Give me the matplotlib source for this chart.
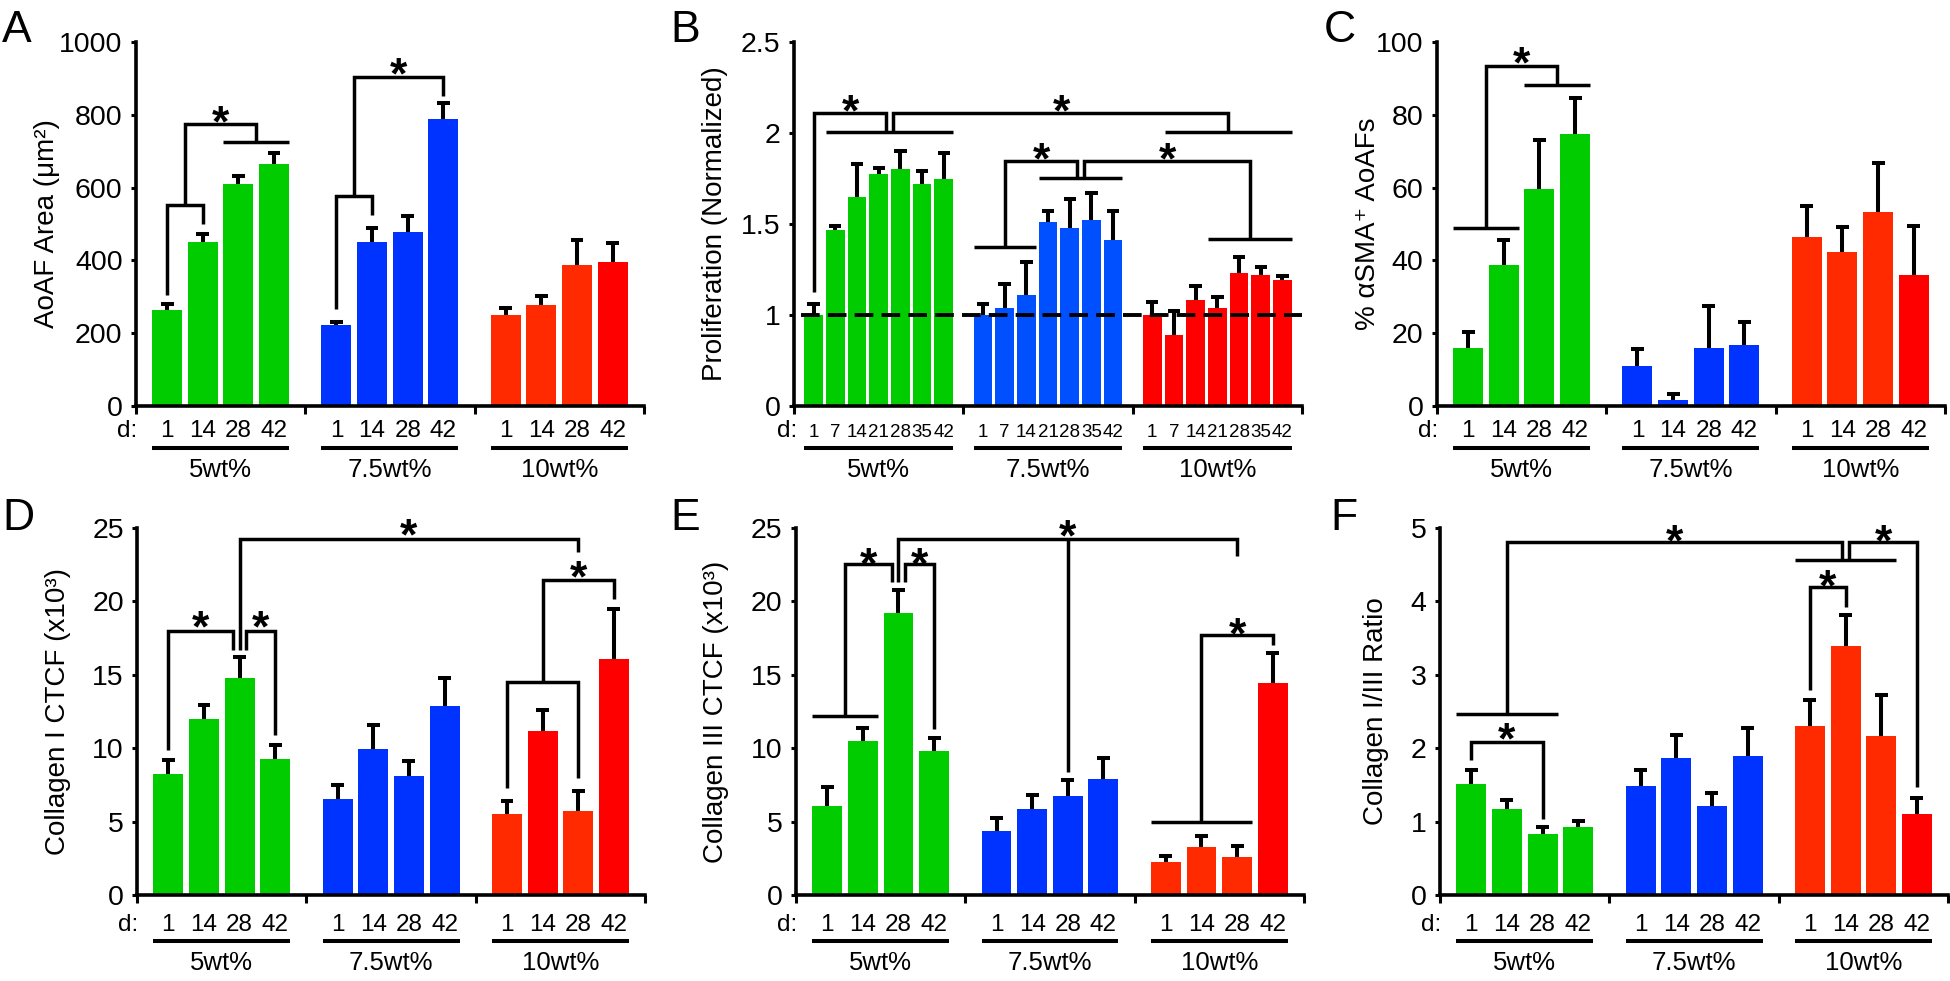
import numpy as np
import matplotlib
matplotlib.use('Agg')
import matplotlib.pyplot as plt
from matplotlib.transforms import ScaledTranslation

plt.rcParams['font.family'] = ['Liberation Sans', 'DejaVu Sans']

groups = ['5wt%', '7.5wt%', '10wt%']
days4 = ['1', '14', '28', '42']
days7 = ['1', '7', '14', '21', '28', '35', '42']

# A - AoAF area
area_mean = [[265, 450, 610, 665], [223, 450, 478, 790], [250, 278, 388, 395]]
area_sem = [[15, 23, 23, 30], [9, 38, 44, 44], [18, 24, 67, 52]]
# B - proliferation (normalized)
prolif_mean = [[1.0, 1.47, 1.65, 1.775, 1.80, 1.72, 1.745],
               [1.0, 1.04, 1.11, 1.51, 1.48, 1.525, 1.415],
               [1.0, 0.89, 1.08, 1.04, 1.23, 1.22, 1.19]]
prolif_sem = [[0.06, 0.02, 0.18, 0.035, 0.10, 0.07, 0.145],
              [0.06, 0.13, 0.18, 0.06, 0.16, 0.145, 0.155],
              [0.07, 0.13, 0.08, 0.06, 0.09, 0.045, 0.025]]
# C - % aSMA+ AoAFs
sma_mean = [[16.0, 38.8, 59.6, 74.8], [11.1, 1.65, 16.0, 16.7], [46.4, 42.3, 53.3, 36.0]]
sma_sem = [[4.4, 6.7, 13.4, 9.8], [4.5, 1.55, 11.5, 6.5], [8.6, 7.0, 13.4, 13.5]]
# D - collagen I CTCF
col1_mean = [[8.24, 12.0, 14.75, 9.28], [6.51, 9.96, 8.08, 12.86], [5.51, 11.14, 5.69, 16.11]]
col1_sem = [[0.95, 0.93, 1.47, 0.91], [0.95, 1.61, 1.06, 1.93], [0.89, 1.45, 1.41, 3.35]]
# E - collagen III CTCF
col3_mean = [[6.03, 10.46, 19.19, 9.78], [4.33, 5.85, 6.71, 7.92], [2.27, 3.29, 2.61, 14.41]]
col3_sem = [[1.30, 0.93, 1.61, 0.93], [0.89, 0.93, 1.09, 1.43], [0.38, 0.73, 0.72, 2.11]]
# F - collagen I/III ratio
ratio_mean = [[1.51, 1.17, 0.83, 0.93], [1.48, 1.86, 1.21, 1.89], [2.30, 3.39, 2.16, 1.10]]
ratio_sem = [[0.19, 0.12, 0.09, 0.08], [0.22, 0.32, 0.18, 0.39], [0.36, 0.43, 0.57, 0.22]]

# significance marks: links (x1, x2, y1, y2, ytop), spans (x1, x2, y), stars (x, y)
A_links = [(0, 1, 305, 500, 551), (0.5, 2.5, 551, 725, 775),
           (4.75, 5.75, 266, 525, 576), (5.25, 7.75, 576, 851, 903)]
A_spans = [(1.58, 3.42, 725)]
A_stars = [(1.5, 809), (6.5, 940)]

B_links = [(0, 3.35, 1.128, 2.007, 2.108), (3.65, 19.1, 2.007, 2.007, 2.108),
           (8.8, 12.15, 1.375, 1.751, 1.846), (12.45, 20.1, 1.751, 1.416, 1.846)]
B_spans = [(0.57, 6.43, 2.007), (16.17, 22.03, 2.007), (7.37, 10.23, 1.375),
           (10.37, 14.23, 1.751), (18.17, 22.03, 1.416)]
B_stars = [(1.7, 2.178), (11.4, 2.178), (10.5, 1.916), (16.3, 1.916)]

C_links = [(0.5, 2.5, 49.0, 88.3, 93.5)]
C_spans = [(-0.42, 1.42, 49.0), (1.58, 3.42, 88.3)]
C_stars = [(1.5, 97.2)]

D_links = [(0, 1.82, 9.87, 16.72, 17.97), (2.18, 3, 16.72, 10.89, 17.97),
           (2, 11.5, 16.72, 23.37, 24.27), (9.5, 11.5, 7.26, 7.94, 14.52),
           (10.5, 12.5, 14.52, 20.19, 21.48)]
D_spans = []
D_stars = [(0.91, 18.94), (2.59, 18.94), (6.75, 25.25), (11.5, 22.35)]

E_links = [(0.5, 1.82, 12.18, 21.3, 22.53), (2.18, 3, 21.3, 11.34, 22.53),
           (2, 11.5, 21.3, 23.1, 24.23), (6.75, 6.75, 8.39, 24.23, 24.23),
           (10.5, 12.5, 4.99, 17.0, 17.7)]
E_spans = [(-0.42, 1.42, 12.18), (9.08, 11.92, 4.99)]
E_stars = [(1.16, 23.3), (2.59, 23.3), (6.75, 25.18), (11.5, 18.5)]

F_links = [(0, 2, 1.84, 1.04, 2.09), (1.0, 10.4, 2.47, 4.56, 4.81),
           (10.6, 12.5, 4.56, 1.47, 4.81), (9.5, 10.5, 2.79, 3.92, 4.20)]
F_spans = [(-0.42, 2.42, 2.47), (9.08, 11.92, 4.56)]
F_stars = [(1.0, 2.27), (5.7, 4.97), (11.55, 4.97), (10.0, 4.35)]

GREEN = '#00CC00'
BLUE = '#0033FF'
BLUE_B = '#0050FF'
ORANGE = '#FF2A00'
RED = '#FF0000'

LW = 2.5
STAR_FS = 32

fig = plt.figure(figsize=(19.5, 9.81), dpi=100)


def panel(rect, means, sems, n, gap, width, cap, reds, blue, yticks, yticklabels,
          ylim, ylabel, ylab_x, days, day_fs, links, spans, stars, offs, dx_d):
    ax = fig.add_axes(rect)
    G = n + gap
    xs, vals, errs, cols = [], [], [], []
    for g in range(3):
        for i in range(n):
            xs.append(g * G + i)
            vals.append(means[g][i])
            errs.append(sems[g][i])
            cols.append([GREEN, blue, reds[i]][g])
    xs = np.array(xs, float)
    vals = np.array(vals)
    tops = vals + np.array(errs)
    ax.bar(xs, vals, width=width, color=cols, zorder=2)
    ax.vlines(xs, vals, tops, colors='k', lw=2.9, zorder=3)
    ax.hlines(tops, xs - cap / 2, xs + cap / 2, colors='k', lw=2.9, zorder=3)

    x0 = -0.5 - gap / 2
    ax.set_xlim(x0, 2 * G + n - 0.5 + gap / 2)
    ax.set_ylim(*ylim)
    ax.set_xticks([x0 + k * G for k in range(4)])
    ax.set_xticklabels([])
    ax.set_yticks(yticks)
    ax.set_yticklabels(yticklabels, fontsize=20.5)
    for s in ['top', 'right']:
        ax.spines[s].set_visible(False)
    for s in ['left', 'bottom']:
        ax.spines[s].set_linewidth(2.6)
    ax.tick_params(axis='y', direction='out', length=3.6, width=2.2, pad=6)
    ax.tick_params(axis='x', direction='out', length=5.5, width=2.2)
    ax.set_ylabel(ylabel, fontsize=20, va='center')
    ax.yaxis.set_label_coords(ylab_x, 0.5)

    def below(px):
        return ax.get_xaxis_transform() + ScaledTranslation(0, -px / 100, fig.dpi_scale_trans)

    d_off, u_off, g_off = offs
    ax.text(dx_d, 0, 'd:', transform=below(d_off), ha='center', va='baseline',
            fontsize=17.5, clip_on=False)
    for g in range(3):
        gx = xs[g * n:(g + 1) * n]
        for xx, lab in zip(gx, days):
            ax.text(xx, 0, lab, transform=below(d_off), ha='center', va='baseline',
                    fontsize=day_fs, clip_on=False)
        ax.plot([gx[0] - width / 2, gx[-1] + width / 2], [0, 0], color='k', lw=2.9,
                transform=below(u_off), clip_on=False, solid_capstyle='butt')
        ax.text(gx.mean(), 0, groups[g], transform=below(g_off), ha='center',
                va='baseline', fontsize=18.5, clip_on=False)

    for x1, x2, y1, y2, yt in links:
        ax.plot([x1, x1, x2, x2], [y1, yt, yt, y2], color='k', lw=LW, clip_on=False,
                solid_joinstyle='miter', solid_capstyle='butt', zorder=4)
    for x1, x2, y in spans:
        ax.plot([x1, x2], [y, y], color='k', lw=LW, clip_on=False,
                solid_capstyle='butt', zorder=4)
    for x, y in stars:
        ax.annotate('*', xy=(x, y), xytext=(0, -0.56 * STAR_FS * 100 / 72),
                    textcoords='offset pixels', ha='center', va='baseline',
                    fontsize=STAR_FS, fontweight='bold', annotation_clip=False)
    return ax


top_b, top_h = 0.5861, 0.371
bot_b, bot_h = 0.0877, 0.374
W = 0.2605
top_offs = (31, 42, 71)
bot_offs = (36, 46, 75)
red4 = [ORANGE, ORANGE, ORANGE, RED]

panel([0.0697, top_b, W, top_h], area_mean, area_sem, 4, 0.75, 0.84, 0.36, red4, BLUE,
      [0, 200, 400, 600, 800, 1000], ['0', '200', '400', '600', '800', '1000'],
      (0, 1000), 'AoAF Area (μm²)', -0.176, days4, 17.5,
      A_links, A_spans, A_stars, top_offs, -1.13)

axB = panel([0.4072, top_b, W, top_h], prolif_mean, prolif_sem, 7, 0.8, 0.86, 0.57,
            [RED] * 7, BLUE_B,
            [0.5, 1, 1.5, 2, 2.5], ['0', '1', '1.5', '2', '2.5'],
            (0.5, 2.5), 'Proliferation (Normalized)', -0.155, days7, 13.5,
            B_links, B_spans, B_stars, top_offs, -1.22)
axB.plot([-0.6, axB.get_xlim()[1]], [1, 1], color='k', lw=2.8,
         ls=(0, (4.8, 2.1)), zorder=5, clip_on=False)

panel([0.7369, top_b, W, top_h], sma_mean, sma_sem, 4, 0.75, 0.84, 0.36, red4, BLUE,
      [0, 20, 40, 60, 80, 100], ['0', '20', '40', '60', '80', '100'],
      (0, 100), '% αSMA⁺ AoAFs', -0.135, days4, 17.5,
      C_links, C_spans, C_stars, top_offs, -1.13)

panel([0.0703, bot_b, W, bot_h], col1_mean, col1_sem, 4, 0.75, 0.84, 0.36,
      [ORANGE, RED, ORANGE, RED], BLUE,
      [0, 5, 10, 15, 20, 25], ['0', '5', '10', '15', '20', '25'],
      (0, 25), 'Collagen I CTCF (x10³)', -0.155, days4, 17.5,
      D_links, D_spans, D_stars, bot_offs, -1.13)

panel([0.4082, bot_b, W, bot_h], col3_mean, col3_sem, 4, 0.75, 0.84, 0.36, red4, BLUE,
      [0, 5, 10, 15, 20, 25], ['0', '5', '10', '15', '20', '25'],
      (0, 25), 'Collagen III CTCF (x10³)', -0.158, days4, 17.5,
      E_links, E_spans, E_stars, bot_offs, -1.13)

panel([0.7385, bot_b, W, bot_h], ratio_mean, ratio_sem, 4, 0.75, 0.84, 0.36, red4, BLUE,
      [0, 1, 2, 3, 4, 5], ['0', '1', '2', '3', '4', '5'],
      (0, 5), 'Collagen I/III Ratio', -0.126, days4, 17.5,
      F_links, F_spans, F_stars, bot_offs, -1.13)

for lab, x, y in [('A', 0.001, 0.957), ('B', 0.344, 0.957), ('C', 0.679, 0.957),
                  ('D', 0.001, 0.4597), ('E', 0.344, 0.4597), ('F', 0.682, 0.4597)]:
    fig.text(x, y, lab, fontsize=32, ha='left', va='baseline')

fig.savefig('out.png', dpi=100)
